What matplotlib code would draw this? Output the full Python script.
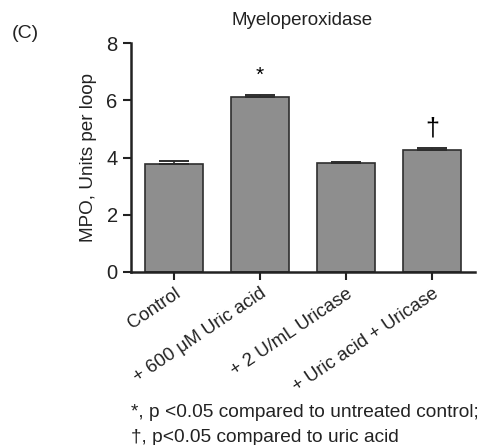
import matplotlib.pyplot as plt
import numpy as np

plt.rcParams['font.family'] = ['Liberation Sans', 'DejaVu Sans']

# data
groups = ['Control', '+ 600 \u03bcM Uric acid', '+ 2 U/mL Uricase', '+ Uric acid + Uricase']
mpo = [3.78, 6.12, 3.80, 4.26]
sem = [0.09, 0.08, 0.06, 0.07]
marks = ['', '*', '', '\u2020']

fig = plt.figure(figsize=(4.83, 4.45), dpi=100)
ax = fig.add_axes([0.271, 0.389, 0.712, 0.514])

x = np.arange(len(groups))
ax.bar(x, mpo, width=0.67, color='#8e8e8e', edgecolor='#2e2e2e', linewidth=1.2, zorder=2)
ax.errorbar(x, mpo, yerr=[np.zeros(len(sem)), sem], fmt='none', ecolor='#2e2e2e',
            elinewidth=1.2, capsize=11, capthick=1.4, zorder=3)

for xi, m, e, s in zip(x, mpo, sem, marks):
    if s == '*':
        ax.text(xi, m + e + 0.35, s, ha='center', va='bottom', fontsize=15)
    elif s:
        ax.text(xi, m + e + 0.25, s, ha='center', va='bottom', fontsize=18)

ax.set_xlim(-0.5, 3.5)
ax.set_ylim(0, 8)
ax.set_yticks([0, 2, 4, 6, 8])
ax.set_xticks(x)
ax.set_xticklabels(groups, rotation=34, ha='right', rotation_mode='anchor', fontsize=13.4)
ax.tick_params(axis='y', labelsize=14.5, width=1.5, length=6, colors='#222222')
ax.tick_params(axis='x', width=1.5, length=6, colors='#222222')
for side in ['top', 'right']:
    ax.spines[side].set_visible(False)
for side in ['left', 'bottom']:
    ax.spines[side].set_linewidth(1.8)
    ax.spines[side].set_color('#222222')

ax.set_ylabel('MPO, Units per loop', fontsize=13.6, color='#222222', labelpad=7)
fig.text(0.625, 0.953, 'Myeloperoxidase', ha='center', va='center', fontsize=13.5, color='#222222')
fig.text(0.025, 0.925, '(C)', ha='left', va='center', fontsize=14, color='#222222')
fig.text(0.272, 0.073, '*, p <0.05 compared to untreated control;', ha='left', va='center',
         fontsize=13.8, color='#222222')
fig.text(0.272, 0.017, '\u2020, p<0.05 compared to uric acid', ha='left', va='center',
         fontsize=13.8, color='#222222')

fig.savefig('out.png', dpi=100)
